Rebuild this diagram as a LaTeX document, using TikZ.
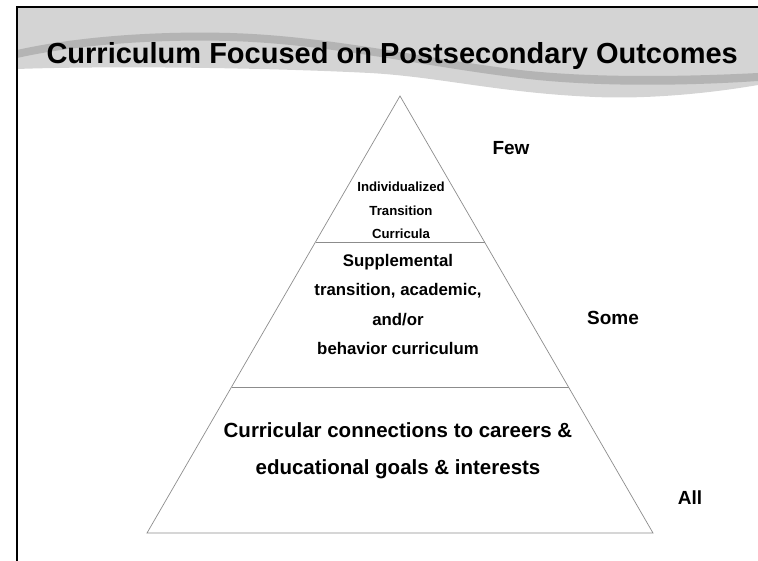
\documentclass[tikz,border=0pt]{standalone}
\usepackage{fontspec}
\setmainfont{Liberation Sans}
\usetikzlibrary{calc}
\definecolor{hdrgray}{HTML}{D4D4D4}
\definecolor{hdrdark}{HTML}{B4B4B4}
\definecolor{pyrgray}{HTML}{8C8C8C}

\begin{document}
\begin{tikzpicture}[x=1pt,y=-1pt,
  tier/.style={align=center,anchor=base},
  amount/.style={anchor=base,font=\bfseries\fontsize{19}{23}\selectfont},
  edge/.style={draw=pyrgray,line width=0.7pt}]
\useasboundingbox (0,0) rectangle (758,561);
% header band
\fill[hdrgray] (17,7) -- (758,7) -- (758,85) .. controls (700,95) and (640,99) .. (595,97)
  .. controls (500,93) and (440,77) .. (370,73) .. controls (250,67) and (100,66) .. (17,69) -- cycle;
\fill[hdrdark] (17,50) .. controls (80,36) and (160,31) .. (230,33) .. controls (330,36) and (420,58) .. (520,70)
  .. controls (600,79) and (700,76) .. (758,73) -- (758,81) .. controls (700,85) and (600,88) .. (520,78)
  .. controls (420,66) and (330,44) .. (230,41) .. controls (160,39) and (80,44) .. (17,58) -- cycle;
\draw[line width=2pt] (758,7) -- (17,7) -- (17,561);
\node[anchor=base west,font=\bfseries\fontsize{29}{34}\selectfont] (title) at (43,64)
  {Curriculum Focused on Postsecondary Outcomes};
% pyramid
\coordinate (apex) at (400,96);
\coordinate (bl) at (147,533);
\coordinate (br) at (653,533);
\draw[edge] (apex) -- (bl) -- (br) -- cycle;
\draw[edge] ($(apex)!0.334!(bl)$) -- ($(apex)!0.334!(br)$);
\draw[edge] ($(apex)!0.666!(bl)$) -- ($(apex)!0.666!(br)$);
% base anchor = last line
\node[tier,font=\bfseries\fontsize{13.2}{23.5}\selectfont] (individual) at (401,239)
  {Individualized\\Transition\\Curricula};
\node[tier,font=\bfseries\fontsize{16.8}{29.5}\selectfont] (supplemental) at (398,355)
  {Supplemental\\transition, academic,\\and/or\\behavior curriculum};
\node[tier,font=\bfseries\fontsize{20.5}{37}\selectfont] (connections) at (398,474)
  {Curricular connections to careers \&\\educational goals \& interests};
\node[amount] (few) at (511,155) {Few};
\node[amount] (some) at (613,325) {Some};
\node[amount] (all) at (690,504) {All};
\end{tikzpicture}
\end{document}
